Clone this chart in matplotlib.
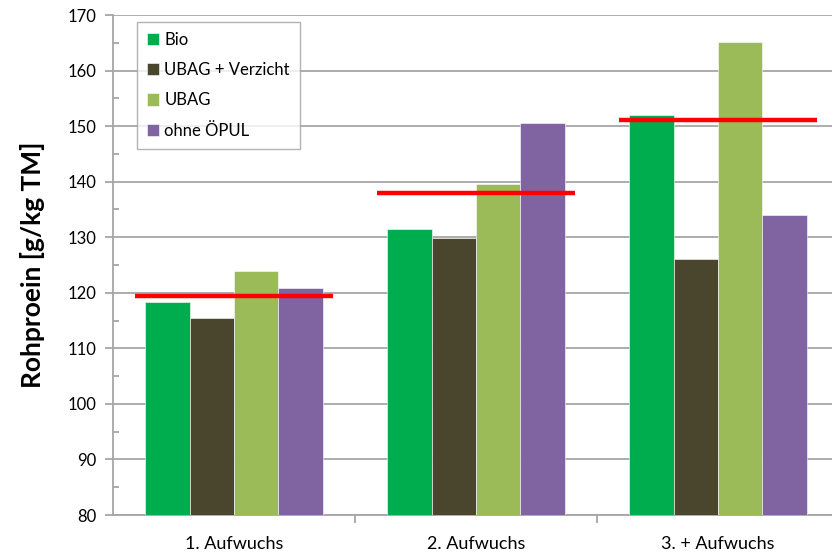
import numpy as np
import matplotlib
matplotlib.use("Agg")
import matplotlib.pyplot as plt
from matplotlib.ticker import MultipleLocator

plt.rcParams["font.family"] = ["Lato", "DejaVu Sans"]

# data
categories = ["1. Aufwuchs", "2. Aufwuchs", "3. + Aufwuchs"]
series = ["Bio", "UBAG + Verzicht", "UBAG", "ohne ÖPUL"]
bio = [118.3, 131.4, 152.0]
ubag_verzicht = [115.4, 129.9, 126.0]
ubag = [123.9, 139.6, 165.1]
ohne_oepul = [120.8, 150.5, 134.0]
means = [119.4, 137.9, 151.1]

colors = ["#00AD4E", "#4A452D", "#9BBB59", "#8064A2"]

fig = plt.figure(figsize=(8.32, 5.52), dpi=100)
ax = fig.add_axes([113 / 832, 37 / 552, 726 / 832, 500 / 552])

x = np.arange(len(categories))
w = 0.183
values = [bio, ubag_verzicht, ubag, ohne_oepul]
for i, (name, vals) in enumerate(zip(series, values)):
    ax.bar(x + (i - 1.5) * w, np.array(vals) - 80, width=w, bottom=80,
           color=colors[i], edgecolor="white", linewidth=0.4, label=name, zorder=3)

# red average lines per group
for xi, m in zip(x, means):
    ax.plot([xi - 0.409, xi + 0.409], [m, m], color="#FF0000", lw=3.2,
            solid_capstyle="butt", zorder=4)

ax.set_xlim(-0.5, 2.5)
ax.set_ylim(80, 170)
ax.yaxis.set_major_locator(MultipleLocator(10))
ax.yaxis.set_minor_locator(MultipleLocator(5))
ax.grid(axis="y", color="#A6A6A6", lw=1.3, zorder=0)
ax.set_axisbelow(True)

for s in ["top", "right"]:
    ax.spines[s].set_visible(False)
for s in ["left", "bottom"]:
    ax.spines[s].set_color("#A6A6A6")
    ax.spines[s].set_linewidth(1.3)

ax.set_xticks([0.5, 1.5], minor=True)
ax.set_xticks(x)
ax.set_xticklabels(categories, fontsize=13)
ax.tick_params(axis="x", which="major", length=0, pad=15)
ax.tick_params(axis="x", which="minor", length=6, color="#A6A6A6", width=1.3)
ax.tick_params(axis="y", which="major", length=6, color="#A6A6A6", width=1.3,
               labelsize=12, pad=6)
ax.tick_params(axis="y", which="minor", length=4, color="#A6A6A6", width=1.3,
               direction="in")

ax.set_ylabel("Rohproein [g/kg TM]", fontsize=19, fontweight="bold", labelpad=16)

leg = ax.legend(loc="upper left", bbox_to_anchor=(24 / 726, 1 - 7 / 500),
                fontsize=12, frameon=True, fancybox=False, edgecolor="#A0A0A0",
                handlelength=0.75, handleheight=0.75, handletextpad=0.3,
                labelspacing=0.85, borderpad=0.6, borderaxespad=0)
leg.get_frame().set_linewidth(1.0)

fig.savefig("out.png", dpi=100)
